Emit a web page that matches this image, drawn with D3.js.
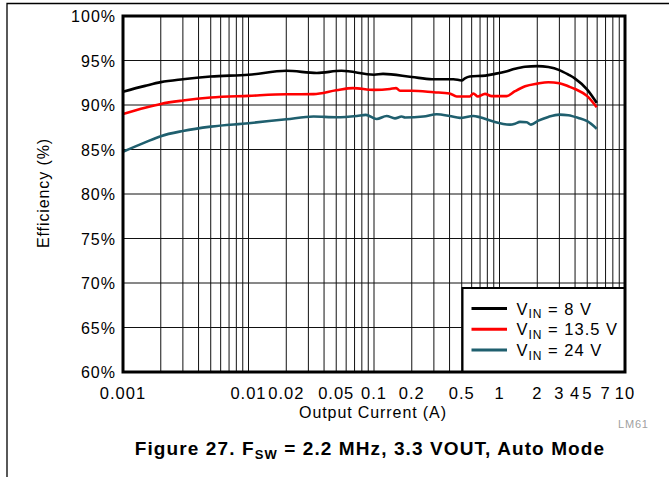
<!DOCTYPE html>
<html>
<head>
<meta charset="utf-8">
<script src="https://cdn.jsdelivr.net/npm/d3@7"></script>
<style>
  body { margin: 0; background: #fff; }
  svg text { font-family: "Liberation Sans", Arial, sans-serif; }
</style>
</head>
<body>
<div id="chartDiv"></div>
<script>
// efficiency vs output current, three input voltages
const current8 = [0.001, 0.0015, 0.002, 0.003, 0.005, 0.01, 0.02, 0.035, 0.055, 0.1, 0.118, 0.2, 0.29, 0.43, 0.5, 0.53, 0.58, 0.77, 0.92, 1.106, 1.33, 1.6, 2.0, 2.45, 3.0, 3.53, 4.0, 5.0, 5.95];
const eff8 = [91.5, 92.15, 92.57, 92.9, 93.2, 93.4, 93.84, 93.6, 93.84, 93.4, 93.5, 93.15, 92.9, 92.9, 92.75, 93.0, 93.2, 93.3, 93.5, 93.73, 94.07, 94.3, 94.37, 94.26, 93.92, 93.42, 92.97, 91.73, 90.24];

const current13 = [0.001, 0.0015, 0.002, 0.003, 0.005, 0.01, 0.02, 0.033, 0.05, 0.068, 0.1, 0.134, 0.15, 0.161, 0.2, 0.3, 0.4, 0.456, 0.58, 0.618, 0.674, 0.766, 0.867, 1.14, 1.33, 1.6, 2.0, 2.45, 3.0, 3.53, 4.0, 5.0, 5.95];
const eff13 = [89.0, 89.7, 90.12, 90.5, 90.84, 91.03, 91.2, 91.22, 91.65, 91.9, 91.7, 91.8, 91.9, 91.6, 91.6, 91.44, 91.3, 90.95, 90.95, 91.3, 90.95, 91.25, 91.0, 91.0, 91.55, 92.1, 92.4, 92.56, 92.45, 92.1, 91.8, 91.0, 89.75];

const current24 = [0.001, 0.0015, 0.002, 0.003, 0.005, 0.01, 0.02, 0.033, 0.05, 0.073, 0.086, 0.105, 0.126, 0.147, 0.166, 0.177, 0.247, 0.316, 0.4, 0.484, 0.618, 0.7, 0.867, 1.21, 1.33, 1.456, 1.65, 1.78, 2.04, 2.45, 3.0, 3.53, 4.25, 5.0, 5.95];
const eff24 = [84.75, 85.8, 86.5, 87.08, 87.57, 87.95, 88.4, 88.7, 88.63, 88.77, 88.89, 88.43, 88.77, 88.5, 88.7, 88.6, 88.7, 88.96, 88.77, 88.55, 88.77, 88.62, 88.2, 87.8, 87.9, 88.1, 88.06, 87.8, 88.24, 88.66, 88.92, 88.85, 88.55, 88.18, 87.34];

const xTickLabels = [0.001, 0.01, 0.02, 0.05, 0.1, 0.2, 0.5, 1, 2, 3, 4, 5, 7, 10];
const yTicks = [60, 65, 70, 75, 80, 85, 90, 95, 100];
const seriesNames = ["8 V", "13.5 V", "24 V"];
const seriesColors = ["#000000", "#ff0000", "#1f5f6e"];

var width = 669,
    height = 477;

var plotLeft = 123, plotRight = 625, plotTop = 16, plotBottom = 372;

var svg = d3.select("#chartDiv")
  .append("svg")
    .attr("width", width)
    .attr("height", height);

// outer frame (only top and left show in the picture)
svg.append("path")
  .attr("d", "M7,477V3.5H669")
  .attr("fill", "none")
  .attr("stroke", "#000")
  .attr("stroke-width", 1.3);

var x = d3.scaleLog()
  .domain([0.001, 10])
  .range([plotLeft, plotRight]);

var y = d3.scaleLinear()
  .domain([60, 100])
  .range([plotBottom, plotTop]);

// grid
svg.append("g")
  .selectAll("line")
  .data(x.ticks())
  .enter().append("line")
    .attr("x1", d => x(d))
    .attr("x2", d => x(d))
    .attr("y1", plotTop)
    .attr("y2", plotBottom)
    .attr("stroke", "#111")
    .attr("stroke-width", 1);

svg.append("g")
  .selectAll("line")
  .data(yTicks)
  .enter().append("line")
    .attr("x1", plotLeft)
    .attr("x2", plotRight)
    .attr("y1", d => y(d))
    .attr("y2", d => y(d))
    .attr("stroke", "#111")
    .attr("stroke-width", 1);

// curves
var series = [
  { name: seriesNames[0], color: seriesColors[0], xs: current8, ys: eff8 },
  { name: seriesNames[1], color: seriesColors[1], xs: current13, ys: eff13 },
  { name: seriesNames[2], color: seriesColors[2], xs: current24, ys: eff24 }
];

var line = d3.line()
  .x(d => x(d[0]))
  .y(d => y(d[1]))
  .curve(d3.curveMonotoneX);

svg.append("g")
  .selectAll("path")
  .data(series)
  .enter().append("path")
    .attr("d", s => line(s.xs.map((v, i) => [v, s.ys[i]])))
    .attr("fill", "none")
    .attr("stroke", s => s.color)
    .attr("stroke-width", 2.6)
    .attr("stroke-linejoin", "round");

// legend
var legend = svg.append("g");
legend.append("rect")
  .attr("x", 462.5)
  .attr("y", 288)
  .attr("width", plotRight - 462.5)
  .attr("height", plotBottom - 288)
  .attr("fill", "#fff")
  .attr("stroke", "#000")
  .attr("stroke-width", 2);

var rows = legend.selectAll("g.row")
  .data(series)
  .enter().append("g")
    .attr("class", "row")
    .attr("transform", (d, i) => "translate(0," + (308.5 + i * 20.8) + ")");

rows.append("line")
  .attr("x1", 471.5)
  .attr("x2", 507)
  .attr("stroke", d => d.color)
  .attr("stroke-width", 3);

var legText = rows.append("text")
  .attr("x", 516.5)
  .attr("y", 6)
  .style("font-size", "16.5px")
  .style("letter-spacing", "1px");
legText.append("tspan").text("V");
legText.append("tspan").attr("dy", 3.5).style("font-size", "12px").text("IN");
legText.append("tspan").attr("dy", -3.5).text(d => " = " + d.name);

// frame on top
svg.append("rect")
  .attr("x", plotLeft)
  .attr("y", plotTop)
  .attr("width", plotRight - plotLeft)
  .attr("height", plotBottom - plotTop)
  .attr("fill", "none")
  .attr("stroke", "#000")
  .attr("stroke-width", 3);

// tick labels
svg.append("g")
  .selectAll("text")
  .data(yTicks)
  .enter().append("text")
    .attr("x", 116)
    .attr("y", d => y(d))
    .attr("dy", "0.4em")
    .attr("text-anchor", "end")
    .style("font-size", "16px")
    .style("letter-spacing", "1px")
    .text(d => d + "%");

svg.append("g")
  .selectAll("text")
  .data(xTickLabels)
  .enter().append("text")
    .attr("x", d => x(d))
    .attr("y", 398.5)
    .attr("text-anchor", "middle")
    .style("font-size", "16.5px")
    .style("letter-spacing", "1px")
    .text(d => d);

// axis titles
svg.append("text")
  .attr("x", 373)
  .attr("y", 418)
  .attr("text-anchor", "middle")
  .style("font-size", "16px")
  .style("letter-spacing", "0.9px")
  .text("Output Current (A)");

svg.append("text")
  .attr("transform", "translate(49,193) rotate(-90)")
  .attr("text-anchor", "middle")
  .style("font-size", "16px")
  .style("letter-spacing", "0.9px")
  .text("Efficiency (%)");

svg.append("text")
  .attr("x", 618)
  .attr("y", 428)
  .attr("fill", "#a0a0a0")
  .style("font-size", "11px")
  .style("letter-spacing", "0.8px")
  .text("LM61");

// caption
var caption = svg.append("text")
  .attr("x", 370)
  .attr("y", 455)
  .attr("text-anchor", "middle")
  .style("font-size", "19px")
  .style("font-weight", "bold")
  .style("letter-spacing", "1.1px");
caption.append("tspan").text("Figure 27. F");
caption.append("tspan").attr("dy", 4).style("font-size", "13px").text("SW");
caption.append("tspan").attr("dy", -4).text(" = 2.2 MHz, 3.3 VOUT, Auto Mode");
</script>
</body>
</html>
